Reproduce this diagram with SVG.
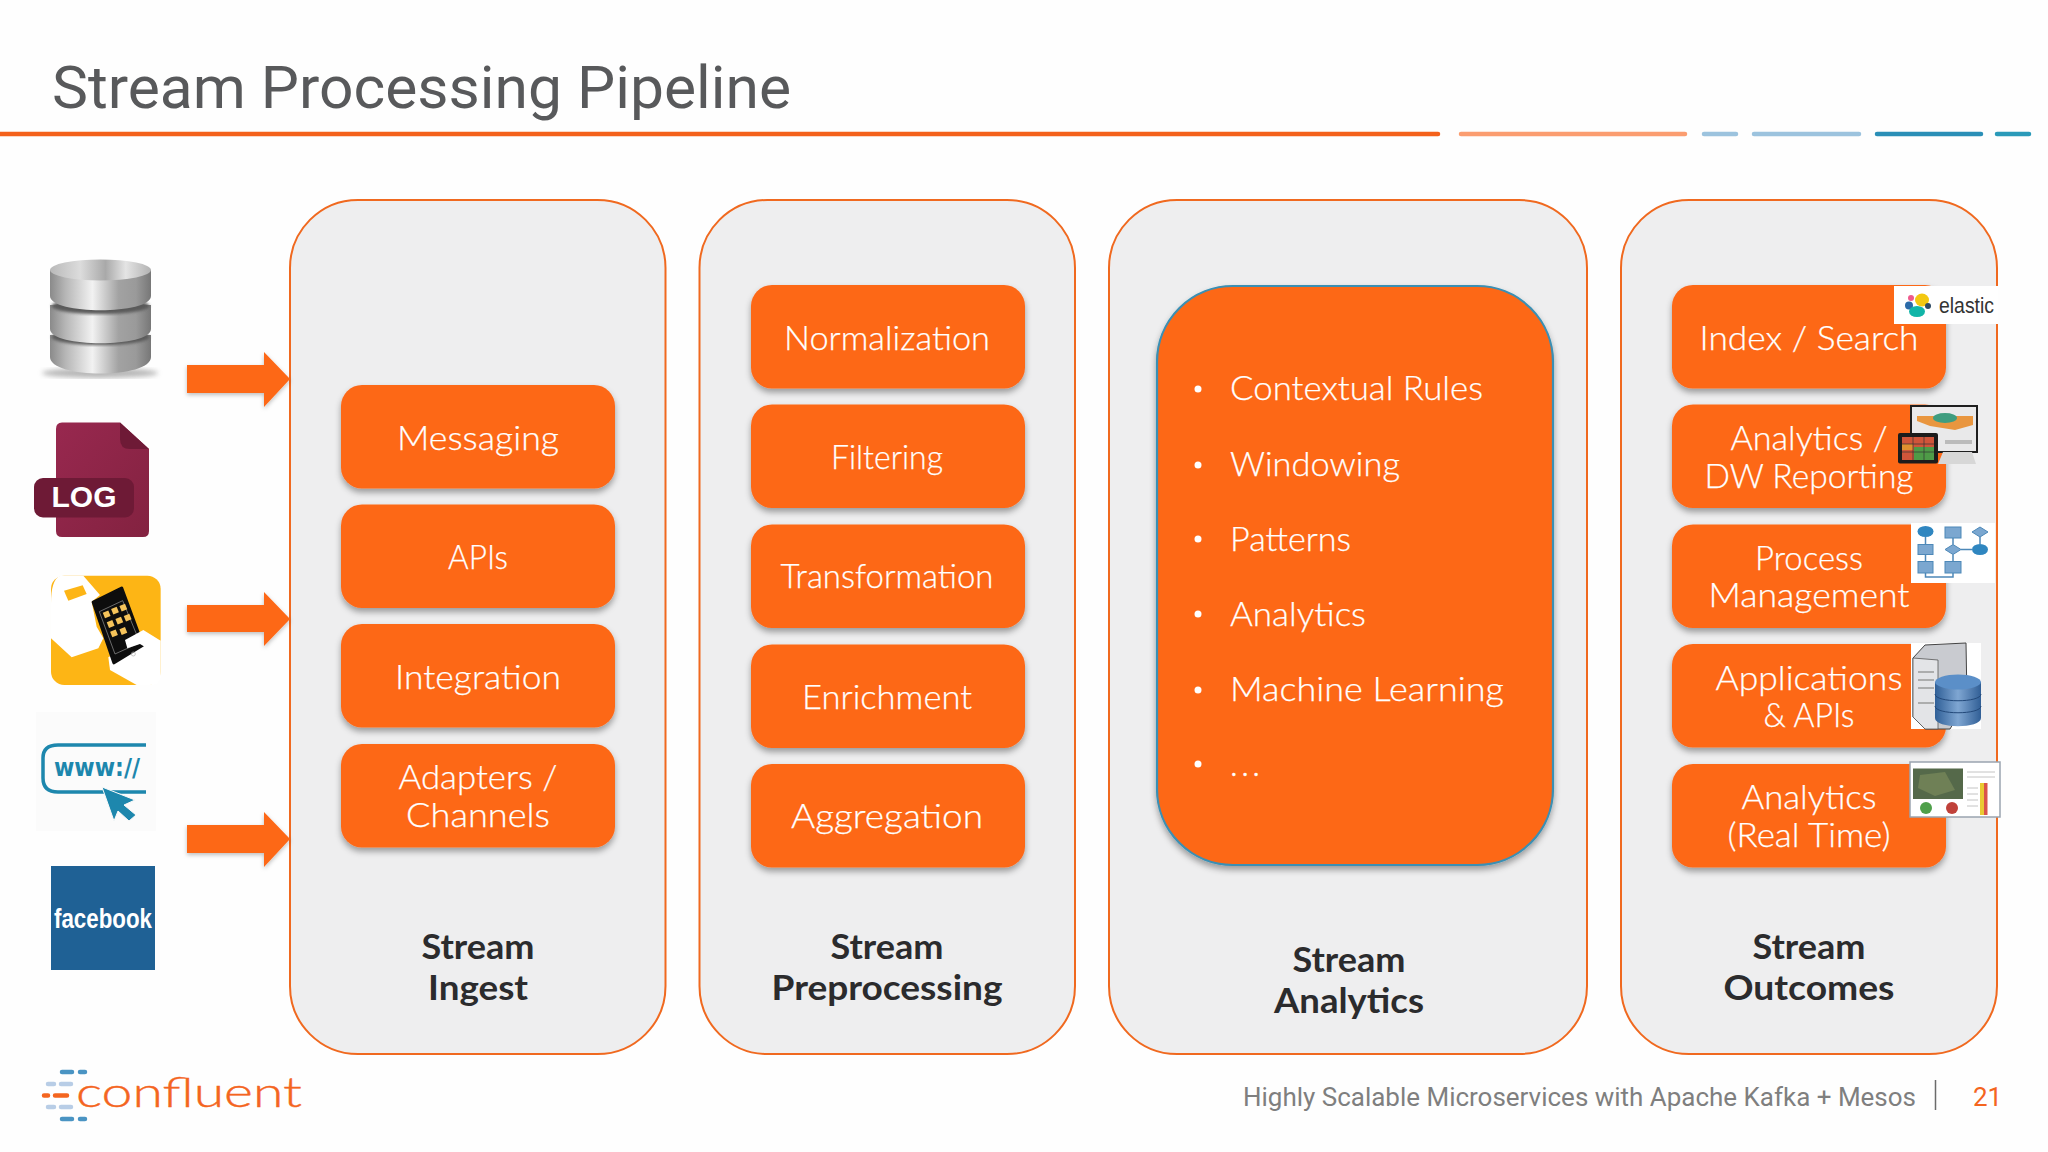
<svg xmlns="http://www.w3.org/2000/svg" width="2048" height="1152" viewBox="0 0 2048 1152">
<style>
text{font-family:"Lato","Liberation Sans",sans-serif}
.panel{fill:#eeeeef;stroke:#f0691f;stroke-width:2}
.box{fill:#fd6819;filter:url(#sh)}
.t{fill:#fff;font-size:33px;font-weight:300;text-anchor:middle;stroke:#fff;stroke-width:.25}
.l{fill:#fff;font-size:33px;font-weight:300;stroke:#fff;stroke-width:.25}
.h{fill:#2b2b2d;font-size:35px;font-weight:700;text-anchor:middle}
.ar{fill:#fd6819;filter:url(#sh2)}
.seg{stroke-width:4.5;stroke-linecap:round;fill:none}
.dash{stroke-width:4.5;stroke-linecap:round;fill:none}
.ft{font-family:"Roboto","Liberation Sans",sans-serif;font-size:26px}
.fl{fill:#7ba7d0;stroke:#4d88b8;stroke-width:1}
.fd{fill:#2f86c0}
</style>
<defs>
<filter id="sh" x="-5%" y="-5%" width="110%" height="120%"><feDropShadow dx="0" dy="4" stdDeviation="3" flood-color="#000" flood-opacity=".35"/></filter>
<filter id="sh2" x="-5%" y="-10%" width="110%" height="125%"><feDropShadow dx="0" dy="2" stdDeviation="2" flood-color="#000" flood-opacity=".25"/></filter>
<filter id="bl"><feGaussianBlur stdDeviation="2.500"/></filter>
<filter id="bs"><feGaussianBlur stdDeviation="1.500"/></filter>
<linearGradient id="metal" x1="0" x2="1" y1="0" y2="0"><stop offset="0" stop-color="#8a8a8a"/><stop offset=".15" stop-color="#b5b5b5"/><stop offset=".42" stop-color="#f2f2f2"/><stop offset=".68" stop-color="#a2a2a2"/><stop offset=".85" stop-color="#9a9a9a"/><stop offset="1" stop-color="#777"/></linearGradient>
<linearGradient id="top" x1="0" x2="1" y1="0" y2="0"><stop offset="0" stop-color="#b9b9b9"/><stop offset=".3" stop-color="#dcdcdc"/><stop offset=".55" stop-color="#a9a9a9"/><stop offset=".75" stop-color="#e4e4e4"/><stop offset="1" stop-color="#b2b2b2"/></linearGradient>
<linearGradient id="log" x1="0" x2="1" y1="0" y2="1"><stop offset="0" stop-color="#98284f"/><stop offset="1" stop-color="#832240"/></linearGradient>
<linearGradient id="cyl" x1="0" x2="1" y1="0" y2="0"><stop offset="0" stop-color="#2f5f97"/><stop offset=".5" stop-color="#7fa6d2"/><stop offset="1" stop-color="#315f96"/></linearGradient>
</defs>
<rect width="2048" height="1152" fill="#fefefe"/>

<g id="title">
<text x="52" y="108" style="font-family:'Roboto','Liberation Sans',sans-serif;font-size:60px" fill="#58595b" textLength="739" lengthAdjust="spacingAndGlyphs">Stream Processing Pipeline</text>
<line class="seg" x1="0" y1="134" x2="1438" y2="134" stroke="#f4611b"/>
<line class="seg" x1="1461" y1="134" x2="1685" y2="134" stroke="#fb9d70"/>
<line class="seg" x1="1704" y1="134" x2="1736" y2="134" stroke="#9cc3de"/>
<line class="seg" x1="1754" y1="134" x2="1859" y2="134" stroke="#9cc3de"/>
<line class="seg" x1="1877" y1="134" x2="1981" y2="134" stroke="#2a8fb7"/>
<line class="seg" x1="1997" y1="134" x2="2029" y2="134" stroke="#2a9ab9"/>
</g>

<g id="panel-ingest">
<rect class="panel" x="290" y="200" width="375.500" height="854" rx="68"/>
<rect class="box" x="341" y="385" width="274" height="103.500" rx="21"/><text class="t" x="478" y="450" textLength="162" lengthAdjust="spacingAndGlyphs">Messaging</text>
<rect class="box" x="341" y="504.500" width="274" height="103.500" rx="21"/><text class="t" x="478" y="569" textLength="60" lengthAdjust="spacingAndGlyphs">APIs</text>
<rect class="box" x="341" y="624" width="274" height="103.500" rx="21"/><text class="t" x="478" y="689" textLength="166" lengthAdjust="spacingAndGlyphs">Integration</text>
<rect class="box" x="341" y="744" width="274" height="103.500" rx="21"/><text class="t" x="478" y="789" textLength="159" lengthAdjust="spacingAndGlyphs">Adapters /</text><text class="t" x="478" y="827" textLength="144" lengthAdjust="spacingAndGlyphs">Channels</text>
<text class="h" x="478" y="959" textLength="113" lengthAdjust="spacingAndGlyphs">Stream</text><text class="h" x="478" y="1000" textLength="100" lengthAdjust="spacingAndGlyphs">Ingest</text>
</g>

<g id="panel-preprocessing">
<rect class="panel" x="699.500" y="200" width="375.500" height="854" rx="68"/>
<rect class="box" x="751" y="285" width="274" height="103.500" rx="21"/><text class="t" x="887" y="349.500" textLength="206" lengthAdjust="spacingAndGlyphs">Normalization</text>
<rect class="box" x="751" y="404.500" width="274" height="103.500" rx="21"/><text class="t" x="887" y="469" textLength="112" lengthAdjust="spacingAndGlyphs">Filtering</text>
<rect class="box" x="751" y="524.500" width="274" height="103.500" rx="21"/><text class="t" x="887" y="588" textLength="213" lengthAdjust="spacingAndGlyphs">Transformation</text>
<rect class="box" x="751" y="644.500" width="274" height="103.500" rx="21"/><text class="t" x="887" y="709" textLength="170" lengthAdjust="spacingAndGlyphs">Enrichment</text>
<rect class="box" x="751" y="764" width="274" height="103.500" rx="21"/><text class="t" x="887" y="828" textLength="192" lengthAdjust="spacingAndGlyphs">Aggregation</text>
<text class="h" x="887" y="959" textLength="113" lengthAdjust="spacingAndGlyphs">Stream</text><text class="h" x="887" y="1000" textLength="231" lengthAdjust="spacingAndGlyphs">Preprocessing</text>
</g>

<g id="panel-analytics">
<rect class="panel" x="1109" y="200" width="478" height="854" rx="68"/>
<rect x="1157" y="286" width="396" height="579" rx="76" fill="#fd6819" stroke="#3a8fb3" stroke-width="2.2" filter="url(#sh)"/>
<g fill="#fff"><circle cx="1198" cy="389" r="3.500"/><circle cx="1198" cy="465" r="3.500"/><circle cx="1198" cy="539" r="3.500"/><circle cx="1198" cy="614" r="3.500"/><circle cx="1198" cy="690" r="3.500"/><circle cx="1198" cy="764" r="3.500"/></g>
<text class="l" x="1230" y="400" textLength="253" lengthAdjust="spacingAndGlyphs">Contextual Rules</text>
<text class="l" x="1230" y="476" textLength="170" lengthAdjust="spacingAndGlyphs">Windowing</text>
<text class="l" x="1230" y="551" textLength="121" lengthAdjust="spacingAndGlyphs">Patterns</text>
<text class="l" x="1230" y="625.500" textLength="136" lengthAdjust="spacingAndGlyphs">Analytics</text>
<text class="l" x="1230" y="701" textLength="274" lengthAdjust="spacingAndGlyphs">Machine Learning</text>
<text class="l" x="1230" y="775.500" textLength="30">...</text>
<text class="h" x="1349" y="972" textLength="113" lengthAdjust="spacingAndGlyphs">Stream</text><text class="h" x="1349" y="1013" textLength="150" lengthAdjust="spacingAndGlyphs">Analytics</text>
</g>

<g id="panel-outcomes">
<rect class="panel" x="1621" y="200" width="376" height="854" rx="68"/>
<rect class="box" x="1672" y="285" width="274" height="103.500" rx="21"/><text class="t" x="1809" y="349.500" textLength="219" lengthAdjust="spacingAndGlyphs">Index / Search</text>
<rect class="box" x="1672" y="404.500" width="274" height="103.500" rx="21"/><text class="t" x="1809" y="450" textLength="157" lengthAdjust="spacingAndGlyphs">Analytics /</text><text class="t" x="1809" y="487.500" textLength="209" lengthAdjust="spacingAndGlyphs">DW Reporting</text>
<rect class="box" x="1672" y="524.500" width="274" height="103.500" rx="21"/><text class="t" x="1809" y="570" textLength="108" lengthAdjust="spacingAndGlyphs">Process</text><text class="t" x="1809" y="607" textLength="201" lengthAdjust="spacingAndGlyphs">Management</text>
<rect class="box" x="1672" y="644" width="274" height="103.500" rx="21"/><text class="t" x="1809" y="689.500" textLength="187" lengthAdjust="spacingAndGlyphs">Applications</text><text class="t" x="1809" y="727" textLength="91" lengthAdjust="spacingAndGlyphs">&amp; APIs</text>
<rect class="box" x="1672" y="764" width="274" height="103.500" rx="21"/><text class="t" x="1809" y="809" textLength="135" lengthAdjust="spacingAndGlyphs">Analytics</text><text class="t" x="1809" y="847" textLength="163" lengthAdjust="spacingAndGlyphs">(Real Time)</text>
<text class="h" x="1809" y="959" textLength="113" lengthAdjust="spacingAndGlyphs">Stream</text><text class="h" x="1809" y="1000" textLength="171" lengthAdjust="spacingAndGlyphs">Outcomes</text>
</g>

<g id="connectors">
<path class="ar" d="M187 365H264V352L290 379L264 407V393H187Z"/>
<path class="ar" d="M187 605H264V592L290 619L264 646V632H187Z"/>
<path class="ar" d="M187 825H264V812L290 839L264 867V853H187Z"/>
</g>

<g id="icon-database">
<ellipse cx="100" cy="373" rx="58" ry="5" fill="#999" opacity=".7" filter="url(#bl)"/>
<path d="M50 335V357C50 379 151 379 151 357V335Z" fill="url(#metal)"/>
<ellipse cx="100.500" cy="337" rx="49" ry="8" fill="#5a5a5a" filter="url(#bs)"/>
<path d="M50 305V329C50 348 151 348 151 329V305Z" fill="url(#metal)"/>
<ellipse cx="100.500" cy="306" rx="49" ry="8" fill="#5a5a5a" filter="url(#bs)"/>
<path d="M50 270V296C50 315 151 315 151 296V270Z" fill="url(#metal)"/>
<ellipse cx="100.500" cy="270" rx="50.500" ry="10.500" fill="url(#top)"/>
</g>

<g id="icon-log">
<path d="M62 422.500H120L149 449V531Q149 537 143 537H62Q56 537 56 531V429Q56 422.500 62 422.500Z" fill="url(#log)"/>
<path d="M120 422.500L149 449H130Q120 449 120 439Z" fill="#6e1a36"/>
<rect x="34" y="478" width="100" height="39.500" rx="9" fill="#6e1a36"/>
<text x="84" y="507" font-size="30" font-weight="700" fill="#fff" text-anchor="middle" style="font-family:'Liberation Sans',sans-serif">LOG</text>
</g>

<g id="icon-mobile" transform="translate(40,570) scale(.33333)">
<rect x="33" y="17" width="329" height="328" rx="40" fill="#fdb515"/>
<path d="M60 17H130L180 75L155 95L170 170L190 205L175 235L95 262L33 205V100Q33 30 60 17Z" fill="#fff"/>
<path d="M72 62L128 46L140 72L85 92Z" fill="#fdb515"/>
<path d="M205 262L300 210L362 212V320Q362 345 330 345H290L210 300Z" fill="#fff"/>
<path d="M160 97L245 55L308 225L222 278Z" fill="#0d0d0d" stroke="#0d0d0d" stroke-width="10" stroke-linejoin="round"/>
<path d="M178 125L248 92L300 218L225 252Z" fill="none" stroke="#999" stroke-width="2"/>
<g fill="#f5c35a">
<rect x="191" y="124" width="18" height="18" transform="rotate(-22 200 133)"/><rect x="216" y="113" width="18" height="18" transform="rotate(-22 225 122)"/><rect x="241" y="104" width="18" height="18" transform="rotate(-22 250 113)"/>
<rect x="203" y="153" width="18" height="18" transform="rotate(-22 212 162)"/><rect x="229" y="143" width="18" height="18" transform="rotate(-22 238 152)"/><rect x="254" y="134" width="18" height="18" transform="rotate(-22 263 143)"/>
<rect x="213" y="181" width="18" height="18" transform="rotate(-22 222 190)"/><rect x="241" y="174" width="18" height="18" transform="rotate(-22 250 183)"/>
</g>
<path d="M255 210L310 180L362 212L330 240L300 222L262 235Z" fill="#fff"/>
<circle cx="280" cy="252" r="6" fill="none" stroke="#aaa" stroke-width="2"/>
</g>

<g id="icon-www">
<rect x="36" y="712" width="120" height="119" fill="#fbfbfb"/>
<path d="M146 745H58Q43 745 43 758V778Q43 792 58 792H146" fill="none" stroke="#1d87ad" stroke-width="3.500"/>
<text x="54" y="776" font-size="25" font-weight="700" fill="#1d87ad" style="font-family:'DejaVu Sans',sans-serif" textLength="86" lengthAdjust="spacingAndGlyphs">www://</text>
<path d="M102 787L135 800L124 805L136 815L129 821L118 811L114 821Z" fill="#1d87ad" stroke="#fafafa" stroke-width="1"/>
</g>

<g id="icon-facebook">
<rect x="51" y="866" width="104" height="104" fill="#1f6195"/>
<text x="54" y="928" font-size="28" font-weight="700" fill="#fff" style="font-family:'Liberation Sans',sans-serif" textLength="98" lengthAdjust="spacingAndGlyphs">facebook</text>
</g>

<g id="inset-elastic">
<rect x="1894" y="286" width="104" height="38" fill="#fff"/>
<ellipse cx="1922" cy="300" rx="7" ry="6.500" fill="#f3c811"/><circle cx="1911" cy="298" r="3" fill="#ef5a8d"/><circle cx="1909" cy="305.500" r="4" fill="#2b6aa8"/><ellipse cx="1917" cy="311.500" rx="8" ry="5.500" fill="#11b5a8"/><circle cx="1928" cy="306" r="3" fill="#2e4a63"/>
<text x="1939" y="313" font-size="22" fill="#333" style="font-family:'Liberation Sans',sans-serif" textLength="55" lengthAdjust="spacingAndGlyphs">elastic</text>
</g>

<g id="inset-reporting">
<rect x="1911" y="406" width="66" height="46" fill="#e9e9ea" stroke="#1e1e1e" stroke-width="2"/>
<path d="M1917 416H1973V425L1955 430L1930 426L1917 421Z" fill="#e9963f"/><ellipse cx="1945" cy="418" rx="12" ry="5" fill="#3f9d7f"/>
<path d="M1945 442H1972" stroke="#bbb" stroke-width="4"/>
<path d="M1943 452H1972L1976 464H1938Z" fill="#d7d7d7"/>
<rect x="1898" y="433" width="40" height="30.500" rx="2" fill="#1c1c1c"/>
<rect x="1902" y="437" width="32" height="23" fill="#d0553a"/><rect x="1914" y="447" width="20" height="13" fill="#4e9b47"/><rect x="1902" y="444" width="11" height="6" fill="#e0902f"/>
<path d="M1902 444H1934M1902 452H1934M1913 437V460M1924 437V460" stroke="#333" stroke-width=".7"/>
</g>

<g id="inset-process">
<rect x="1911" y="523" width="84" height="60" fill="#fff"/>
<path d="M1925.500 537V544.500M1925.500 554.500V561.500M1953 538V544.500M1953 554.500V561.500M1961 549.500H1972M1925.500 573V577H1953V573M1980 537V544" stroke="#4d88b8" fill="none" stroke-width="1.500"/>
<ellipse cx="1925.500" cy="531.500" rx="8" ry="5.500" class="fd"/><rect x="1918" y="544.500" width="15" height="10" class="fl"/><rect x="1918" y="561.500" width="15" height="11.500" class="fl"/>
<rect x="1945" y="527" width="16" height="11" class="fl"/><path d="M1953 544.500L1961 549.500L1953 554.500L1945 549.500Z" class="fl"/><rect x="1945" y="561.500" width="16" height="11.500" class="fl"/>
<path d="M1980 527L1988 532L1980 537L1972 532Z" class="fl"/><ellipse cx="1980" cy="549.500" rx="8" ry="5.500" class="fd"/>
</g>

<g id="inset-server">
<rect x="1911" y="643" width="70" height="86" fill="#fff"/>
<path d="M1913 658L1925 645L1966 643L1967 700L1950 729H1925L1913 717Z" fill="#c9cbd0" stroke="#444" stroke-width="1"/>
<path d="M1913 658L1938 660V729H1925L1913 717Z" fill="#e3e4e7" stroke="#555" stroke-width=".8"/>
<path d="M1918 672H1934M1918 680H1934M1918 688H1934M1918 703H1934" stroke="#9a9a9a" stroke-width="1.500"/>
<path d="M1935 682V718C1935 729 1981 729 1981 718V682Z" fill="url(#cyl)"/>
<ellipse cx="1958" cy="682" rx="23" ry="7.500" fill="#5b8fc8"/>
<path d="M1935 694C1935 703 1981 703 1981 694M1935 706C1935 715 1981 715 1981 706" stroke="#23497a" fill="none"/>
</g>

<g id="inset-map">
<rect x="1910" y="762" width="90" height="55" fill="#fff" stroke="#9aa4b0" stroke-width="1.500"/>
<rect x="1913" y="768.500" width="50" height="30.500" fill="#55694a"/>
<path d="M1920 775L1945 772L1955 790L1935 796L1918 788Z" fill="#6f8056"/>
<circle cx="1926" cy="808" r="6" fill="#4fa04a"/><circle cx="1952" cy="808" r="6" fill="#c0413a"/>
<path d="M1967 772H1995M1967 777H1995M1967 788H1978M1967 794H1978M1967 800H1978M1967 806H1978" stroke="#c4c4c4" stroke-width="1"/>
<rect x="1980" y="783" width="4" height="32" fill="#e9c932"/><rect x="1984" y="783" width="3.500" height="32" fill="#d9534a"/>
</g>

<g id="logo">
<g class="dash">
<path d="M62 1072H72M80 1072H85M62 1119H72M80 1119H85" stroke="#4a94c3"/>
<path d="M48 1084H54M61 1084H71M48 1107H54M61 1107H71" stroke="#b8cde6"/>
<path d="M44 1095.500H48M55 1095.500H67" stroke="#f4651f"/>
</g>
<text x="76" y="1107" font-size="41" fill="#f4651f" font-weight="300" stroke="#f4651f" stroke-width=".4" textLength="226" lengthAdjust="spacingAndGlyphs">confluent</text>
</g>

<g id="footer">
<text class="ft" x="1243" y="1106" fill="#7f7f7f" textLength="673" lengthAdjust="spacingAndGlyphs">Highly Scalable Microservices with Apache Kafka + Mesos</text>
<line x1="1935.500" y1="1080" x2="1935.500" y2="1110" stroke="#6b6b6b" stroke-width="1.500"/>
<text class="ft" x="1973" y="1106" fill="#f4651f">21</text>
</g>
</svg>
